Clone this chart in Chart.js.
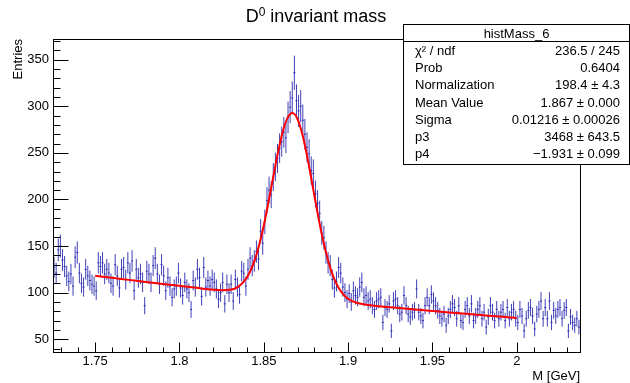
<!DOCTYPE html>
<html>
<head>
<meta charset="utf-8">
<script src="https://cdn.jsdelivr.net/npm/chart.js@4.4.0/dist/chart.umd.min.js"></script>
<style>
  body { margin: 0; background: #fff; }
  canvas { display: block; }
</style>
</head>
<body>
<canvas id="myChart" width="630" height="383"></canvas>
<script>
// histogram: 250 bins from 1.725 to 2.0375 GeV
var binLow = 1.725;
var binWidth = 0.00125;
var counts = [
  127, 121, 146, 150, 135, 128, 118, 112, 120, 107,
  138, 143, 121, 110, 106, 125, 118, 113, 109, 107,
  102, 132, 128, 132, 120, 125, 121, 110, 107, 130,
  118, 105, 125, 127, 114, 132, 121, 134, 102, 125,
  116, 120, 111, 86, 123, 120, 111, 129, 137, 120,
  109, 130, 118, 102, 116, 107, 95, 104, 107, 121,
  105, 97, 111, 104, 100, 82, 113, 106, 125, 116,
  96, 127, 106, 113, 107, 114, 111, 104, 93, 100,
  111, 88, 109, 100, 109, 91, 114, 106, 98, 123,
  121, 107, 125, 137, 129, 134, 144, 136, 166, 153,
  176, 199, 210, 205, 224, 235, 244, 255, 262, 272,
  266, 288, 299, 309, 336, 306, 295, 300, 285, 270,
  256, 249, 231, 228, 206, 196, 185, 164, 159, 143,
  132, 129, 114, 105, 112, 127, 121, 106, 100, 93,
  99, 90, 102, 97, 95, 106, 111, 95, 97, 91,
  93, 86, 82, 91, 93, 95, 68, 84, 82, 88,
  59, 91, 93, 86, 77, 79, 97, 86, 77, 74,
  79, 81, 104, 79, 75, 70, 86, 95, 86, 98,
  91, 86, 81, 75, 72, 77, 65, 75, 82, 88,
  84, 72, 86, 70, 68, 82, 86, 75, 88, 70,
  75, 82, 86, 72, 79, 63, 74, 86, 79, 70,
  82, 72, 79, 82, 70, 84, 72, 79, 82, 72,
  68, 82, 75, 59, 72, 81, 84, 75, 61, 77,
  82, 91, 72, 84, 72, 91, 68, 81, 75, 82,
  84, 72, 81, 84, 59, 74, 68, 65, 72, 63
];

// fitted curve
var fitX = [1.75, 1.76, 1.77, 1.78, 1.79, 1.80, 1.81, 1.82, 1.825, 1.83,
  1.835, 1.84, 1.843, 1.846, 1.849, 1.852, 1.855, 1.858, 1.861, 1.864,
  1.867, 1.870, 1.873, 1.876, 1.879, 1.882, 1.885, 1.888, 1.891, 1.894,
  1.897, 1.90, 1.905, 1.91, 1.92, 1.93, 1.94, 1.95, 1.96, 1.97,
  1.98, 1.99, 2.00];
var fitY = [118.2, 115.9, 113.7, 111.5, 109.4, 107.3, 105.2, 103.2, 102.7, 103.1,
  106.5, 116.2, 127.0, 142.9, 163.9, 189.7, 218.4, 246.8, 271.1, 287.3,
  292.7, 286.2, 268.9, 243.6, 214.0, 184.3, 157.4, 135.2, 118.3, 106.4,
  98.5, 93.5, 89.1, 87.2, 85.1, 83.5, 81.9, 80.3, 78.8, 77.3,
  75.8, 74.3, 72.9];

var xTicks = [1.75, 1.8, 1.85, 1.9, 1.95, 2.0];
var xTickLabels = ['1.75', '1.8', '1.85', '1.9', '1.95', '2'];
var xMinor = [1.73, 1.74, 1.76, 1.77, 1.78, 1.79, 1.81, 1.82, 1.83, 1.84,
  1.86, 1.87, 1.88, 1.89, 1.91, 1.92, 1.93, 1.94, 1.96, 1.97, 1.98, 1.99,
  2.01, 2.02, 2.03];
var yTicks = [50, 100, 150, 200, 250, 300, 350];
var yMinor = [40, 60, 70, 80, 90, 110, 120, 130, 140, 160, 170, 180, 190,
  210, 220, 230, 240, 260, 270, 280, 290, 310, 320, 330, 340, 360, 370];

var statNames = ['\u03c7\u00b2 / ndf', 'Prob', 'Normalization', 'Mean Value', 'Sigma', 'p3', 'p4'];
var statValues = ['236.5 / 245', '0.6404', '198.4 \u00b1 4.3', '1.867 \u00b1 0.000',
  '0.01216 \u00b1 0.00026', '3468 \u00b1 643.5', '\u22121.931 \u00b1 0.099'];

var FONT = "'Liberation Sans', Arial, sans-serif";
var BLUE = 'rgba(30, 30, 170, 0.85)';

function binCenter(i) { return binLow + (i + 0.5) * binWidth; }

var histPoints = counts.map(function (c, i) { return { x: binCenter(i), y: c }; });
var fitPoints = fitX.map(function (v, i) { return { x: v, y: fitY[i] }; });

var rootPlugin = {
  id: 'rootStyle',
  beforeDatasetsDraw: function (chart) {
    var ctx = chart.ctx, x = chart.scales.x, y = chart.scales.y;
    ctx.save();
    ctx.strokeStyle = BLUE;
    ctx.lineWidth = 1;
    ctx.beginPath();
    counts.forEach(function (c, i) {
      var px = x.getPixelForValue(binCenter(i));
      var e = Math.sqrt(c);
      ctx.moveTo(px, y.getPixelForValue(c - e));
      ctx.lineTo(px, y.getPixelForValue(c + e));
    });
    ctx.stroke();
    ctx.restore();
  },
  afterDraw: function (chart) {
    var ctx = chart.ctx, a = chart.chartArea, x = chart.scales.x, y = chart.scales.y;
    ctx.save();
    ctx.strokeStyle = '#000';
    ctx.lineWidth = 1;
    // frame
    ctx.strokeRect(Math.round(a.left) + 0.5, Math.round(a.top) + 0.5,
      Math.round(a.right - a.left), Math.round(a.bottom - a.top));
    // ticks
    ctx.beginPath();
    yTicks.forEach(function (v) {
      var py = Math.round(y.getPixelForValue(v)) + 0.5;
      ctx.moveTo(a.left, py); ctx.lineTo(a.left + 15.5, py);
    });
    yMinor.forEach(function (v) {
      var py = Math.round(y.getPixelForValue(v)) + 0.5;
      ctx.moveTo(a.left, py); ctx.lineTo(a.left + 7.5, py);
    });
    xTicks.forEach(function (v) {
      var px = Math.round(x.getPixelForValue(v)) + 0.5;
      ctx.moveTo(px, a.bottom); ctx.lineTo(px, a.bottom - 9.5);
    });
    xMinor.forEach(function (v) {
      var px = Math.round(x.getPixelForValue(v)) + 0.5;
      ctx.moveTo(px, a.bottom); ctx.lineTo(px, a.bottom - 4.5);
    });
    ctx.stroke();

    ctx.fillStyle = '#000';
    // title with superscript
    var big = '18px ' + FONT, small = '12px ' + FONT;
    ctx.font = big;
    var wD = ctx.measureText('D').width;
    var wRest = ctx.measureText(' invariant mass').width;
    ctx.font = small;
    var w0 = ctx.measureText('0').width;
    var tx = 316 - (wD + w0 + wRest) / 2;
    ctx.textAlign = 'left';
    ctx.textBaseline = 'alphabetic';
    ctx.font = big;
    ctx.fillText('D', tx, 22);
    ctx.font = small;
    ctx.fillText('0', tx + wD, 16);
    ctx.font = big;
    ctx.fillText(' invariant mass', tx + wD + w0, 22);

    // axis titles
    ctx.font = '13px ' + FONT;
    ctx.textAlign = 'right';
    ctx.fillText('M [GeV]', a.right, 380);
    ctx.save();
    ctx.translate(22, a.top);
    ctx.rotate(-Math.PI / 2);
    ctx.fillText('Entries', 0, 0);
    ctx.restore();

    // stats box
    ctx.fillStyle = '#fff';
    ctx.fillRect(403.5, 24.5, 226, 140);
    ctx.strokeRect(403.5, 24.5, 226, 140);
    ctx.beginPath();
    ctx.moveTo(403.5, 41.5); ctx.lineTo(629.5, 41.5);
    ctx.stroke();
    ctx.fillStyle = '#000';
    ctx.font = '13px ' + FONT;
    ctx.textAlign = 'center';
    ctx.fillText('histMass_6', 516.5, 38);
    statNames.forEach(function (n, i) {
      var by = 55 + i * 17.2;
      ctx.textAlign = 'left';
      ctx.fillText(n, 415, by);
      ctx.textAlign = 'right';
      ctx.fillText(statValues[i], 620, by);
    });
    ctx.restore();
  }
};

window.onload = function () {
  var ctx = document.getElementById('myChart').getContext('2d');
  var config = {
    type: 'scatter',
    data: {
      datasets: [{
        type: 'line',
        data: fitPoints,
        borderColor: '#ff0000',
        borderWidth: 2,
        pointRadius: 0,
        fill: false,
        cubicInterpolationMode: 'monotone',
        order: 0
      }, {
        data: histPoints,
        pointStyle: 'line',
        pointRadius: 1.05,
        pointBorderWidth: 1,
        borderColor: BLUE,
        backgroundColor: BLUE,
        order: 1
      }]
    },
    plugins: [rootPlugin],
    options: {
      responsive: false,
      animation: false,
      layout: { padding: { top: 39, right: 50, left: 0, bottom: 0 } },
      plugins: { legend: { display: false }, tooltip: { enabled: false } },
      scales: {
        x: {
          type: 'linear',
          min: 1.725,
          max: 2.0375,
          afterBuildTicks: function (s) { s.ticks = xTicks.map(function (v) { return { value: v }; }); },
          afterFit: function (s) { s.height = 31; },
          grid: { display: false, drawTicks: false },
          border: { display: false },
          ticks: {
            autoSkip: false, maxRotation: 0, padding: 2, color: '#000',
            font: { family: FONT, size: 13 },
            callback: function (v, i) { return xTickLabels[i]; }
          }
        },
        y: {
          type: 'linear',
          min: 36.3,
          max: 372.2,
          afterBuildTicks: function (s) { s.ticks = yTicks.map(function (v) { return { value: v }; }); },
          afterFit: function (s) { s.width = 53; },
          grid: { display: false, drawTicks: false },
          border: { display: false },
          ticks: {
            padding: 4, color: '#000',
            font: { family: FONT, size: 13 },
            callback: function (v) { return String(v); }
          }
        }
      }
    }
  };
  var myChart = new Chart(ctx, config);
};
</script>
</body>
</html>
